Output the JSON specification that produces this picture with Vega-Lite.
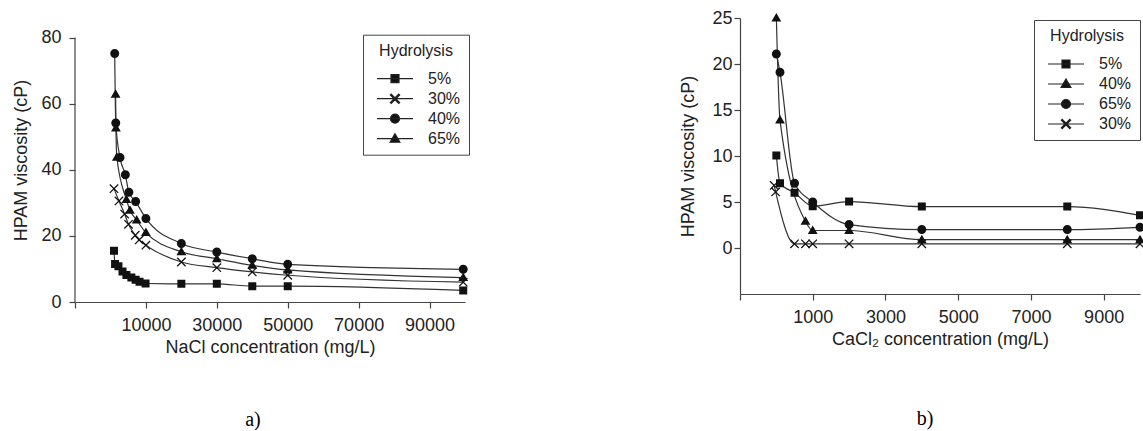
{
  "$schema": "https://vega.github.io/schema/vega-lite/v6.json",
  "background": "white",
  "padding": {"left": 12, "top": 9, "right": 0, "bottom": 0},
  "datasets": {
    "nacl": [
      {"series": "5%", "conc": 1000, "visc": 15.5},
      {"series": "5%", "conc": 1300, "visc": 11.5},
      {"series": "5%", "conc": 2250, "visc": 10.8},
      {"series": "5%", "conc": 3400, "visc": 9.2},
      {"series": "5%", "conc": 4500, "visc": 8.2},
      {"series": "5%", "conc": 5900, "visc": 7.4},
      {"series": "5%", "conc": 7100, "visc": 6.7},
      {"series": "5%", "conc": 8200, "visc": 6.1},
      {"series": "5%", "conc": 9900, "visc": 5.6},
      {"series": "5%", "conc": 20000, "visc": 5.5},
      {"series": "5%", "conc": 30000, "visc": 5.5},
      {"series": "5%", "conc": 40000, "visc": 4.8},
      {"series": "5%", "conc": 50000, "visc": 4.8},
      {"series": "5%", "conc": 99500, "visc": 3.5},
      {"series": "30%", "conc": 1000, "visc": 34.3},
      {"series": "30%", "conc": 2400, "visc": 30.6},
      {"series": "30%", "conc": 4000, "visc": 26.6},
      {"series": "30%", "conc": 5100, "visc": 23.5},
      {"series": "30%", "conc": 7000, "visc": 20.2},
      {"series": "30%", "conc": 8100, "visc": 18.8},
      {"series": "30%", "conc": 10000, "visc": 17.2},
      {"series": "30%", "conc": 20000, "visc": 12.1},
      {"series": "30%", "conc": 30000, "visc": 10.4},
      {"series": "30%", "conc": 40000, "visc": 9.1},
      {"series": "30%", "conc": 50000, "visc": 8.1},
      {"series": "30%", "conc": 99500, "visc": 6.0},
      {"series": "40%", "conc": 1200, "visc": 75.2},
      {"series": "40%", "conc": 1500, "visc": 54.2},
      {"series": "40%", "conc": 2700, "visc": 43.7},
      {"series": "40%", "conc": 4200, "visc": 38.5},
      {"series": "40%", "conc": 5200, "visc": 33.2},
      {"series": "40%", "conc": 7100, "visc": 30.4},
      {"series": "40%", "conc": 10000, "visc": 25.3},
      {"series": "40%", "conc": 20000, "visc": 17.7},
      {"series": "40%", "conc": 30000, "visc": 15.1},
      {"series": "40%", "conc": 40000, "visc": 13.1},
      {"series": "40%", "conc": 50000, "visc": 11.4},
      {"series": "40%", "conc": 99500, "visc": 9.9},
      {"series": "65%", "conc": 1450, "visc": 62.9},
      {"series": "65%", "conc": 1550, "visc": 52.7},
      {"series": "65%", "conc": 1800, "visc": 43.8},
      {"series": "65%", "conc": 4500, "visc": 31.0},
      {"series": "65%", "conc": 5500, "visc": 27.8},
      {"series": "65%", "conc": 7400, "visc": 24.8},
      {"series": "65%", "conc": 10000, "visc": 21.0},
      {"series": "65%", "conc": 20000, "visc": 15.2},
      {"series": "65%", "conc": 30000, "visc": 13.1},
      {"series": "65%", "conc": 40000, "visc": 11.1},
      {"series": "65%", "conc": 50000, "visc": 9.7},
      {"series": "65%", "conc": 99500, "visc": 7.4}
    ],
    "cacl": [
      {"series": "5%", "conc": 0, "visc": 10.05},
      {"series": "5%", "conc": 100, "visc": 7.05},
      {"series": "5%", "conc": 500, "visc": 6.0},
      {"series": "5%", "conc": 1000, "visc": 4.55},
      {"series": "5%", "conc": 2000, "visc": 5.05},
      {"series": "5%", "conc": 4000, "visc": 4.5},
      {"series": "5%", "conc": 8000, "visc": 4.5},
      {"series": "5%", "conc": 10000, "visc": 3.55},
      {"series": "40%", "conc": 0, "visc": 25.0},
      {"series": "40%", "conc": 100, "visc": 13.9},
      {"series": "40%", "conc": 800, "visc": 2.9},
      {"series": "40%", "conc": 1000, "visc": 1.9},
      {"series": "40%", "conc": 2000, "visc": 1.9},
      {"series": "40%", "conc": 4000, "visc": 0.9},
      {"series": "40%", "conc": 8000, "visc": 0.9},
      {"series": "40%", "conc": 10000, "visc": 0.9},
      {"series": "65%", "conc": 0, "visc": 21.1},
      {"series": "65%", "conc": 100, "visc": 19.1},
      {"series": "65%", "conc": 500, "visc": 7.05},
      {"series": "65%", "conc": 1000, "visc": 5.0},
      {"series": "65%", "conc": 2000, "visc": 2.55},
      {"series": "65%", "conc": 4000, "visc": 2.0},
      {"series": "65%", "conc": 8000, "visc": 2.0},
      {"series": "65%", "conc": 10000, "visc": 2.25},
      {"series": "30%", "conc": -60, "visc": 6.8},
      {"series": "30%", "conc": -20, "visc": 6.1},
      {"series": "30%", "conc": 500, "visc": 0.45},
      {"series": "30%", "conc": 800, "visc": 0.45},
      {"series": "30%", "conc": 1000, "visc": 0.45},
      {"series": "30%", "conc": 2000, "visc": 0.45},
      {"series": "30%", "conc": 4000, "visc": 0.45},
      {"series": "30%", "conc": 8000, "visc": 0.45},
      {"series": "30%", "conc": 10000, "visc": 0.45}
    ]
  },
  "config": {
    "view": {"stroke": null},
    "font": "Liberation Sans",
    "concat": {"spacing": 197},
    "axis": {
      "grid": false,
      "domainColor": "#444",
      "tickColor": "#444",
      "domainWidth": 1.2,
      "tickWidth": 1.2,
      "tickSize": 6,
      "labelColor": "#222",
      "titleColor": "#222",
      "labelFont": "Liberation Sans",
      "titleFont": "Liberation Sans",
      "labelFontSize": 18,
      "titleFontSize": 18,
      "titleFontWeight": "normal"
    },
    "legend": {
      "orient": "none",
      "titleAnchor": "middle",
      "titleFont": "Liberation Sans",
      "labelFont": "Liberation Sans",
      "titleFontSize": 16,
      "titleFontWeight": "normal",
      "titleColor": "#222",
      "labelFontSize": 16,
      "labelColor": "#222",
      "labelAlign": "left",
      "strokeColor": "#444",
      "padding": 8,
      "titlePadding": 9,
      "rowPadding": 1,
      "symbolSize": 400,
      "symbolOffset": 13,
      "labelOffset": 22,
      "symbolStrokeColor": "#222",
      "symbolStrokeWidth": 1.2,
      "symbolFillColor": "#111"
    },
    "title": {"font": "Liberation Serif", "fontSize": 20, "fontWeight": "normal", "color": "#000"}
  },
  "resolve": {"scale": {"x": "independent", "y": "independent", "shape": "independent"}, "legend": {"shape": "independent"}},
  "hconcat": [
    {
      "width": 390,
      "height": 284,
      "title": {"text": "a)", "orient": "bottom", "anchor": "middle", "offset": 54, "dx": -17},
      "layer": [
        {
          "data": {"name": "nacl"},
          "mark": {"type": "line", "interpolate": "monotone", "color": "#333", "strokeWidth": 1.2},
          "encoding": {
            "x": {"field": "conc", "type": "quantitative", "scale": {"domain": [-10000, 100000], "nice": false, "zero": false},
              "axis": {"orient": "bottom", "title": "NaCl concentration (mg/L)", "values": [-10000, 10000, 30000, 50000, 70000, 90000], "format": "d", "labelExpr": "datum.value < 0 ? '' : datum.label", "labelPadding": 8, "titlePadding": 4}},
            "y": {"field": "visc", "type": "quantitative", "scale": {"domain": [0, 85.96], "nice": false},
              "axis": {"title": "HPAM viscosity (cP)", "values": [0, 10, 20, 30, 40, 50, 60, 70, 80], "domain": false, "labelPadding": 8, "titlePadding": 10}},
            "detail": {"field": "series"}
          }
        },
        {
          "data": {"values": [{"axisFrom": 0, "axisTo": 80}]},
          "mark": {"type": "rule", "color": "#444", "strokeWidth": 1.2},
          "encoding": {
            "x": {"datum": -10000, "type": "quantitative"},
            "y": {"field": "axisFrom", "type": "quantitative"},
            "y2": {"field": "axisTo"}
          }
        },
        {
          "data": {"name": "nacl"},
          "mark": {"type": "point", "filled": true, "color": "#111", "opacity": 1, "size": 400},
          "encoding": {
            "x": {"field": "conc", "type": "quantitative"},
            "y": {"field": "visc", "type": "quantitative"},
            "shape": {"field": "series", "type": "nominal",
              "scale": {"domain": ["5%", "30%", "40%", "65%"],
                "range": [
                  "M-1.8,0L1.8,0M-0.4,-0.4L0.4,-0.4L0.4,0.4L-0.4,0.4Z",
                  "M-1.8,0L1.8,0M-0.375,-0.465L0.465,0.375L0.375,0.465L-0.465,-0.375ZM0.375,-0.465L0.465,-0.375L-0.375,0.465L-0.465,0.375Z",
                  "M-1.8,0L1.8,0M-0.45,0C-0.45,-0.248 -0.248,-0.45 0,-0.45C0.248,-0.45 0.45,-0.248 0.45,0C0.45,0.248 0.248,0.45 0,0.45C-0.248,0.45 -0.45,0.248 -0.45,0Z",
                  "M-1.8,0L1.8,0M0,-0.5L0.49,0.35L-0.49,0.35Z"
                ]},
              "legend": {"title": "Hydrolysis", "legendX": 288, "legendY": 16.7, "direction": "vertical", "columns": 1, "labelAlign": "left",
                "encoding": {"symbols": {"stroke": {"value": "#222"}, "strokeWidth": {"value": 1.2}, "fill": {"value": "#111"}}, "labels": {"align": {"value": "left"}}}}}
          }
        }
      ]
    },
    {
      "width": 400,
      "height": 276,
      "title": {"text": "b)", "orient": "bottom", "anchor": "middle", "offset": 61, "dx": -15},
      "data": {"name": "cacl"},
      "layer": [
        {
          "mark": {"type": "line", "interpolate": "monotone", "color": "#333", "strokeWidth": 1.2},
          "encoding": {
            "x": {"field": "conc", "type": "quantitative", "scale": {"domain": [-1000, 10000], "nice": false, "zero": false},
              "axis": {"orient": "bottom", "title": "CaCl₂ concentration (mg/L)", "values": [-1000, 1000, 3000, 5000, 7000, 9000], "format": "d", "labelExpr": "datum.value < 0 ? '' : datum.label", "labelPadding": 8, "titlePadding": 4}},
            "y": {"field": "visc", "type": "quantitative", "scale": {"domain": [-5, 25], "nice": false, "zero": false},
              "axis": {"title": "HPAM viscosity (cP)", "values": [0, 5, 10, 15, 20, 25], "labelPadding": 2, "titlePadding": 14}},
            "detail": {"field": "series"}
          }
        },
        {
          "mark": {"type": "point", "filled": true, "color": "#111", "opacity": 1, "size": 400},
          "encoding": {
            "x": {"field": "conc", "type": "quantitative"},
            "y": {"field": "visc", "type": "quantitative"},
            "shape": {"field": "series", "type": "nominal",
              "scale": {"domain": ["5%", "40%", "65%", "30%"],
                "range": [
                  "M-1.8,0L1.8,0M-0.4,-0.4L0.4,-0.4L0.4,0.4L-0.4,0.4Z",
                  "M-1.8,0L1.8,0M0,-0.5L0.49,0.35L-0.49,0.35Z",
                  "M-1.8,0L1.8,0M-0.45,0C-0.45,-0.248 -0.248,-0.45 0,-0.45C0.248,-0.45 0.45,-0.248 0.45,0C0.45,0.248 0.248,0.45 0,0.45C-0.248,0.45 -0.45,0.248 -0.45,0Z",
                  "M-1.8,0L1.8,0M-0.375,-0.465L0.465,0.375L0.375,0.465L-0.465,-0.375ZM0.375,-0.465L0.465,-0.375L-0.375,0.465L-0.465,0.375Z"
                ]},
              "legend": {"title": "Hydrolysis", "legendX": 294, "legendY": 2, "direction": "vertical", "columns": 1, "labelAlign": "left",
                "encoding": {"symbols": {"stroke": {"value": "#222"}, "strokeWidth": {"value": 1.2}, "fill": {"value": "#111"}}, "labels": {"align": {"value": "left"}}}}}
          }
        }
      ]
    }
  ]
}
